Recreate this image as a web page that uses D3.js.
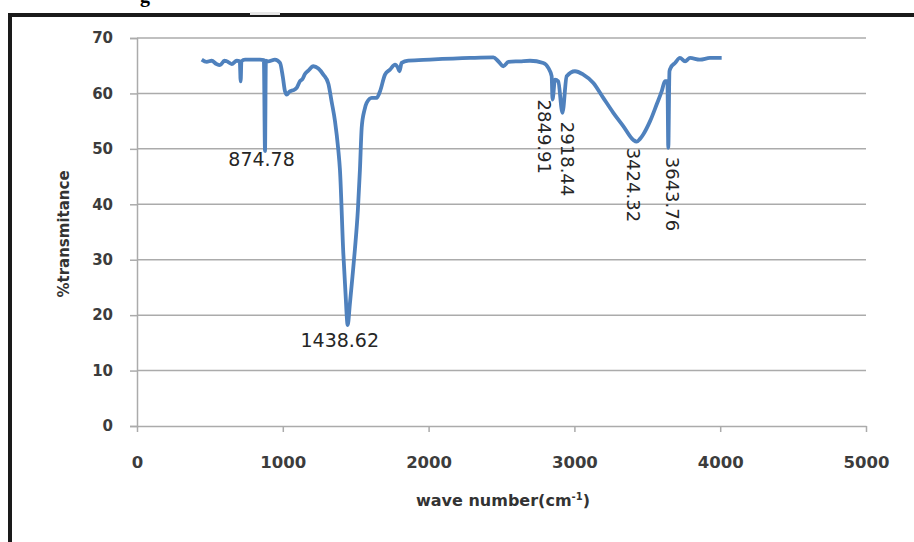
<!DOCTYPE html>
<html>
<head>
<meta charset="utf-8">
<script src="https://cdn.jsdelivr.net/npm/d3@7"></script>
<style>
  body { margin: 0; background: #fff; }
  text { font-family: "DejaVu Sans", Verdana, sans-serif; }
</style>
</head>
<body>
<script>
// FTIR spectrum, values
var waveNumbers = [444, 478, 512, 545, 569, 600, 615, 650, 684, 705, 711, 716, 741, 798, 844, 870, 878, 884, 900, 946,
  981, 1000, 1015, 1027, 1045, 1061, 1075, 1095, 1118, 1135, 1152, 1175, 1209, 1244, 1278, 1312, 1335, 1358, 1380, 1392,
  1415, 1430, 1445, 1460, 1478, 1495, 1515, 1529, 1541, 1560, 1575, 1610, 1644, 1667, 1701, 1735, 1770, 1790, 1800, 1815,
  1861, 2010, 2284, 2444, 2478, 2512, 2547, 2627, 2695, 2787, 2821, 2844, 2850, 2867, 2889, 2918, 2947, 3004, 3061, 3130,
  3198, 3267, 3335, 3404, 3427, 3450, 3472, 3519, 3564, 3599, 3621, 3638, 3644, 3652, 3660, 3690, 3724, 3759, 3793, 3861,
  3930, 4010];
var transmit = [66.1, 65.7, 65.9, 65.3, 65.1, 65.9, 65.8, 65.3, 65.9, 65.8, 62.2, 65.8, 66.1, 66.1, 66.1, 66.0, 49.6, 65.9, 65.8, 66.1,
  65.5, 63.0, 60.4, 59.8, 60.3, 60.5, 60.6, 61.0, 62.2, 62.6, 63.5, 64.1, 64.9, 64.5, 63.4, 61.8, 58.5, 55.0, 50.0, 46.2,
  31.2, 24.0, 18.2, 22.0, 27.0, 32.0, 39.0, 46.2, 53.8, 57.0, 58.3, 59.2, 59.2, 60.4, 63.4, 64.3, 65.2, 64.6, 64.0, 65.5,
  65.9, 66.1, 66.4, 66.5, 65.8, 64.9, 65.7, 65.8, 65.9, 65.5, 64.6, 63.1, 58.9, 62.5, 62.2, 56.5, 63.1, 64.0, 63.4, 61.9,
  59.2, 56.5, 54.1, 51.6, 51.3, 51.8, 52.6, 55.0, 58.0, 60.4, 62.2, 62.2, 50.2, 64.0, 64.6, 65.5, 66.4, 65.8, 66.4, 66.1,
  66.4, 66.4];

// peak labels
var peakNames = ['874.78', '1438.62', '2849.91', '2918.44', '3424.32', '3643.76'];
var peakX = [874.78, 1438.62, 2849.91, 2918.44, 3424.32, 3643.76];
var peakRotated = [false, false, true, true, true, true];

var xTicks = [0, 1000, 2000, 3000, 4000, 5000];
var yTicks = [0, 10, 20, 30, 40, 50, 60, 70];

var W = 914, H = 542;
var m = {left: 137, right: 866, top: 38, bottom: 426};

// label nudges from the peak bottom (px)
var labelNudge = [[-3, 15], [-7, 22], [-14.5, 0], [-1.5, 9], [-9, 6], [-2, 9]];

var svg = d3.select('body').append('svg')
  .attr('width', W)
  .attr('height', H);

svg.append('rect').attr('width', W).attr('height', H).attr('fill', '#fff');

// frame around the figure
svg.append('path')
  .attr('d', 'M10,' + H + ' V15 H' + W)
  .attr('fill', 'none')
  .attr('stroke', '#1a1a1a')
  .attr('stroke-width', 4);
svg.append('rect').attr('x', 250).attr('y', 12).attr('width', 30).attr('height', 3).attr('fill', '#e6e6e6');
svg.append('text').attr('x', 140).attr('y', 2)
  .style('font-family', '"Liberation Serif", serif').style('font-weight', 'bold').style('font-size', '20px')
  .text('g');

var x = d3.scaleLinear().domain([0, 5000]).range([m.left, m.right]);
var y = d3.scaleLinear().domain([0, 70]).range([m.bottom, m.top]);

var gridCol = '#ababab';

// gridlines
svg.append('g').selectAll('line').data(yTicks.slice(1)).enter().append('line')
  .attr('x1', m.left).attr('x2', m.right)
  .attr('y1', function(d){ return y(d); }).attr('y2', function(d){ return y(d); })
  .attr('stroke', gridCol).attr('stroke-width', 1.5);

// y axis
var yAxis = svg.append('g')
  .attr('transform', 'translate(' + m.left + ',0)')
  .call(d3.axisLeft(y).tickValues(yTicks).tickSize(7).tickPadding(17));
yAxis.select('.domain').attr('stroke', gridCol).attr('stroke-width', 1.5);
yAxis.selectAll('.tick line').attr('stroke', gridCol).attr('stroke-width', 1.5);
yAxis.selectAll('text').style('font-size', '15px').style('font-weight', 'bold').attr('fill', '#3c3c3c');

// x axis
var xAxis = svg.append('g')
  .attr('transform', 'translate(0,' + m.bottom + ')')
  .call(d3.axisBottom(x).tickValues(xTicks).tickFormat(d3.format('d')).tickSize(6).tickSizeOuter(0).tickPadding(24));
xAxis.select('.domain').attr('stroke', gridCol).attr('stroke-width', 1.5);
xAxis.selectAll('.tick line').attr('stroke', gridCol).attr('stroke-width', 1.5);
xAxis.selectAll('text').style('font-size', '16.5px').style('font-weight', 'bold').attr('fill', '#3c3c3c');

// axis titles
var xt = svg.append('text')
  .attr('x', 503).attr('y', 506)
  .attr('text-anchor', 'middle')
  .style('font-size', '16px').style('font-weight', 'bold').attr('fill', '#333');
xt.append('tspan').text('wave number(cm');
xt.append('tspan').attr('dy', -6).style('font-size', '10px').text('-1');
xt.append('tspan').attr('dy', 6).text(')');

svg.append('text')
  .attr('transform', 'translate(69,234) rotate(-90)')
  .attr('text-anchor', 'middle')
  .style('font-size', '15px').style('font-weight', 'bold').attr('fill', '#333')
  .text('%transmitance');

// spectrum line
var pts = waveNumbers.map(function(d, i){ return [d, transmit[i]]; });
var line = d3.line()
  .x(function(d){ return x(d[0]); })
  .y(function(d){ return y(d[1]); })
  .curve(d3.curveMonotoneX);

svg.append('path')
  .datum(pts)
  .attr('d', line)
  .attr('fill', 'none')
  .attr('stroke', '#4f81bd')
  .attr('stroke-width', 3.8)
  .attr('stroke-linejoin', 'round');

// lowest point within 20 cm-1 of a peak
var minAt = function(wn){
  var v = 100;
  waveNumbers.forEach(function(d, i){
    if (Math.abs(d - wn) < 20 && transmit[i] < v) v = transmit[i];
  });
  return v;
};

svg.append('g').selectAll('text').data(peakNames).enter().append('text')
  .attr('transform', function(d, i){
    var px = x(peakX[i]) + labelNudge[i][0], py = y(minAt(peakX[i])) + labelNudge[i][1];
    if (peakRotated[i]) return 'translate(' + px + ',' + py + ') rotate(90)';
    return 'translate(' + px + ',' + py + ')';
  })
  .attr('text-anchor', function(d, i){ return peakRotated[i] ? 'start' : 'middle'; })
  .style('font-size', function(d, i){ return peakRotated[i] ? '18px' : '19px'; })
  .attr('fill', '#262626')
  .text(function(d){ return d; });
</script>
</body>
</html>
